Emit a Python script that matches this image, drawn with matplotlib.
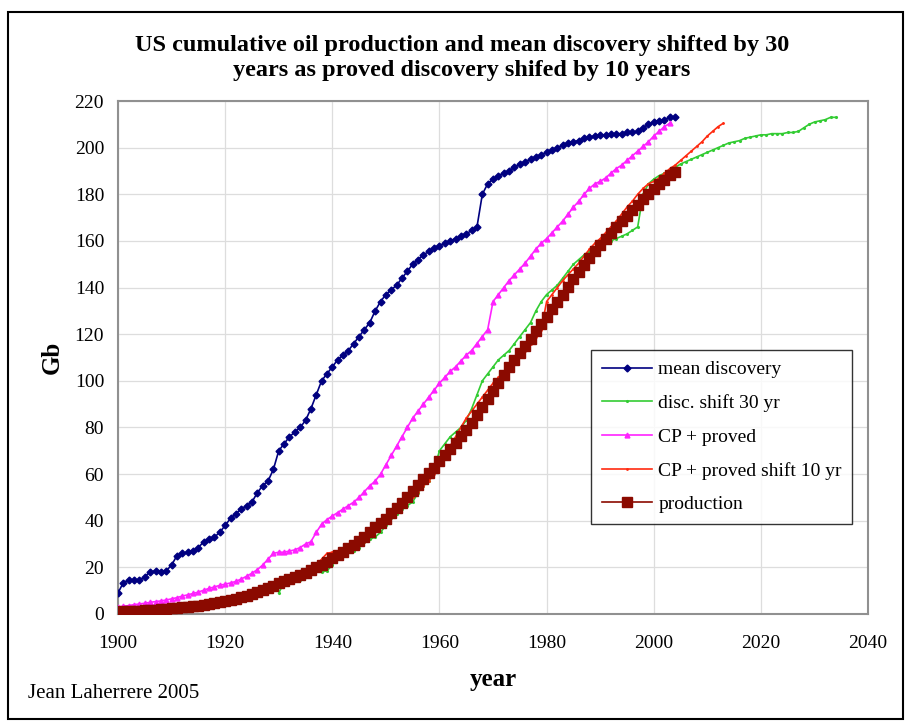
import numpy as np
import matplotlib
matplotlib.use("Agg")
import matplotlib.pyplot as plt
from matplotlib.patches import Rectangle

plt.rcParams['font.family'] = ['Liberation Serif', 'DejaVu Serif']

# one value per year (Gb)
years = np.arange(1900, 2005)
cp_years = np.arange(1900, 2004)

mean_discovery = [
    9, 13.5, 14.5, 14.5, 14.5, 16, 18, 18.5, 18, 18.5,
    21, 25, 26, 26.5, 27, 28.5, 31, 32, 33, 35,
    38, 41, 43, 45, 46.5, 48, 52, 55, 57, 62,
    70, 73, 76, 78, 80, 83, 88, 94, 100, 103,
    106, 109, 111, 113, 116, 119, 122, 125, 130, 134,
    137, 139, 141, 144, 147, 150, 152, 154, 155.5, 157,
    158, 159, 160, 161, 162, 163, 164.5, 166, 180, 184.5,
    186.5, 188, 189, 190, 191.5, 193, 194, 195, 196, 197,
    198, 199, 200, 201, 202, 202.5, 203, 204, 204.5, 205,
    205.5, 205.5, 206, 206, 206, 206.5, 206.5, 207, 208.5, 210,
    211, 211.5, 212, 213, 213]

cp_proved = [
    3, 3.3, 3.6, 4, 4.3, 4.6, 5, 5.3, 5.6, 6,
    6.5, 7, 7.7, 8.2, 8.8, 9.4, 10.2, 11, 11.6, 12.3,
    12.8, 13.3, 14, 15, 16.2, 17.5, 19, 21, 23.5, 26,
    26.5, 26.5, 27, 27.5, 28.5, 30, 31, 35, 38.5, 40.5,
    42, 43.5, 45, 46.5, 48, 50, 52.5, 55, 57, 60,
    64, 68, 72, 76, 80, 84, 87, 90, 93, 96,
    99, 101.5, 104, 106, 108.5, 111, 113, 116, 119, 122,
    134, 137, 140, 143, 145.5, 148, 150.5, 153.5, 156.5, 159,
    161, 163.5, 166, 168.5, 171.5, 174.5, 177, 180, 182.5, 184.5,
    185.5, 187, 189, 191, 192.5, 194.5, 196.5, 198.5, 200.5, 202.5,
    205, 207, 209, 210.5]

production = [
    1.0, 1.1, 1.2, 1.3, 1.4, 1.5, 1.6, 1.8, 2.0, 2.2,
    2.4, 2.6, 2.8, 3.1, 3.3, 3.6, 3.9, 4.3, 4.6, 5.0,
    5.4, 5.9, 6.4, 7.2, 7.9, 8.6, 9.4, 10.3, 11.2, 12.2,
    13.1, 14.0, 14.8, 15.7, 16.6, 17.6, 18.7, 20.0, 21.2, 22.4,
    23.8, 25.2, 26.6, 28.1, 29.8, 31.5, 33.2, 35.1, 37.1, 38.9,
    40.9, 43.2, 45.4, 47.8, 50.1, 52.6, 55.2, 57.8, 60.3, 62.8,
    65.4, 68.0, 70.7, 73.5, 76.3, 79.1, 82.1, 85.4, 88.7, 92.1,
    95.6, 99.0, 102.5, 105.8, 109.0, 112.1, 115.1, 118.1, 121.3, 124.4,
    127.5, 130.7, 133.8, 137.0, 140.3, 143.5, 146.7, 149.8, 152.7, 155.5,
    158.2, 160.9, 163.5, 166.0, 168.5, 170.8, 173.2, 175.6, 177.8, 180.0,
    182.1, 184.2, 186.3, 188.4, 189.5]

disc_shift = 30   # years
proved_shift = 10  # years

fig = plt.figure(figsize=(9.07, 7.22), dpi=100)
ax = fig.add_axes([0.1301, 0.1496, 0.827, 0.7105])

ax.plot(years, mean_discovery, color='#000080', lw=1.2, marker='D', ms=3.5,
        label='mean discovery', zorder=3)
ax.plot(years + disc_shift, mean_discovery, color='#33cc33', lw=1.2, marker='.', ms=2.5,
        label='disc. shift 30 yr', zorder=3)
ax.plot(cp_years, cp_proved, color='#ff22ff', lw=1.2, marker='^', ms=3.5,
        label='CP + proved', zorder=3)
ax.plot(cp_years + proved_shift, cp_proved, color='#ff2a10', lw=1.2, marker='.', ms=2,
        label='CP + proved shift 10 yr', zorder=3)
ax.plot(years, production, color='#8b0a00', lw=1.2, marker='s', ms=7.5,
        label='production', zorder=4)

ax.set_xlim(1900, 2040)
ax.set_ylim(0, 220)
ax.set_xticks(np.arange(1900, 2041, 20))
ax.set_yticks(np.arange(0, 221, 20))
ax.tick_params(axis='both', length=0, labelsize=14)
ax.tick_params(axis='x', pad=15)
ax.tick_params(axis='y', pad=10)
ax.grid(True, color='#dddddd', lw=0.9)
ax.set_axisbelow(True)
for s in ax.spines.values():
    s.set_color('#909090')
    s.set_linewidth(1.5)

ax.set_xlabel('year', fontsize=18, fontweight='bold', labelpad=12)
ax.set_ylabel('Gb', fontsize=18, fontweight='bold', labelpad=8)
fig.text(462 / 907, 1 - 58 / 722,
         'US cumulative oil production and mean discovery shifted by 30\n'
         'years as proved discovery shifed by 10 years',
         fontsize=17.5, fontweight='bold', ha='center', va='center', linespacing=1.25)

leg = ax.legend(loc='upper left', bbox_to_anchor=(0.6307, 0.5146), fontsize=14,
                frameon=True, fancybox=False, edgecolor='black', handlelength=2.6,
                labelspacing=0.82, borderpad=0.55, handletextpad=0.3, borderaxespad=0)
leg.get_frame().set_linewidth(1.0)

fig.text(28 / 907, 1 - 694 / 722, 'Jean Laherrere 2005', fontsize=15, va='center')
fig.patches.append(Rectangle((8 / 907, 3 / 722), 895 / 907, 707 / 722,
                             transform=fig.transFigure, fill=False,
                             edgecolor='black', lw=1.5))

fig.savefig('out.png', dpi=100)
